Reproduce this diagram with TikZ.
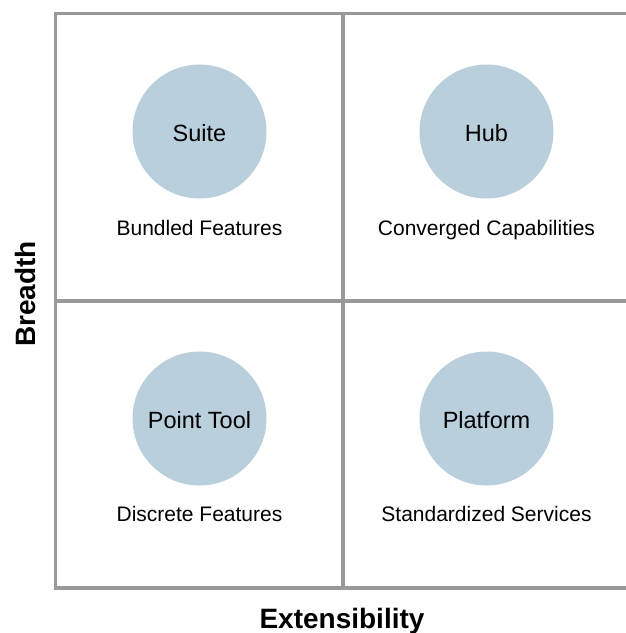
\documentclass[tikz,border=0pt]{standalone}
\usepackage{fontspec}
\setmainfont{Liberation Sans}
\definecolor{gridgray}{RGB}{153,153,153}
\definecolor{bubble}{RGB}{185,207,220}
\begin{document}
\begin{tikzpicture}[x=1pt,y=-1pt,
  gridline/.style={draw=gridgray,line width=3.5pt},
  bubblenode/.style={circle,fill=bubble,minimum size=134pt,inner sep=0pt,
    font=\fontsize{23.5}{28}\selectfont},
  sublabel/.style={anchor=base,inner sep=0pt,font=\fontsize{21}{25}\selectfont},
  axislabel/.style={anchor=base,inner sep=0pt,font=\fontsize{28}{33}\selectfont\bfseries}]
\useasboundingbox (0,0) rectangle (626,633);
% grid
\draw[gridline] (630.5,13.5) -- (55.5,13.5) -- (55.5,588) -- (630.5,588);
\draw[gridline] (630.5,13.5) -- (630.5,588);
\draw[gridline] (343,13.5) -- (343,588);
\draw[gridline] (55.5,301) -- (630.5,301);
% bubbles
\node[bubblenode] (suite) at (199.5,131.5) {};
\node[bubblenode] (hub) at (486.5,131.5) {};
\node[bubblenode] (point) at (199.5,418.5) {};
\node[bubblenode] (platform) at (486.5,418.5) {};
\node[sublabel,font=\fontsize{23.5}{28}\selectfont] (suitet) at (199.5,141.5) {Suite};
\node[sublabel,font=\fontsize{23.5}{28}\selectfont] (hubt) at (486.5,141.5) {Hub};
\node[sublabel,font=\fontsize{23.5}{28}\selectfont] (pointt) at (199.5,428.3) {Point Tool};
\node[sublabel,font=\fontsize{23.5}{28}\selectfont] (platformt) at (486.5,428.3) {Platform};
% sublabels
\node[sublabel] (bundled) at (199.5,235) {Bundled Features};
\node[sublabel] (converged) at (486.5,235) {Converged Capabilities};
\node[sublabel] (discrete) at (199.5,521.7) {Discrete Features};
\node[sublabel] (standard) at (486.5,521.7) {Standardized Services};
% axes
\node[axislabel] (ext) at (342,628) {Extensibility};
\node[axislabel,rotate=90] (breadth) at (35,294) {Breadth};
\end{tikzpicture}
\end{document}
